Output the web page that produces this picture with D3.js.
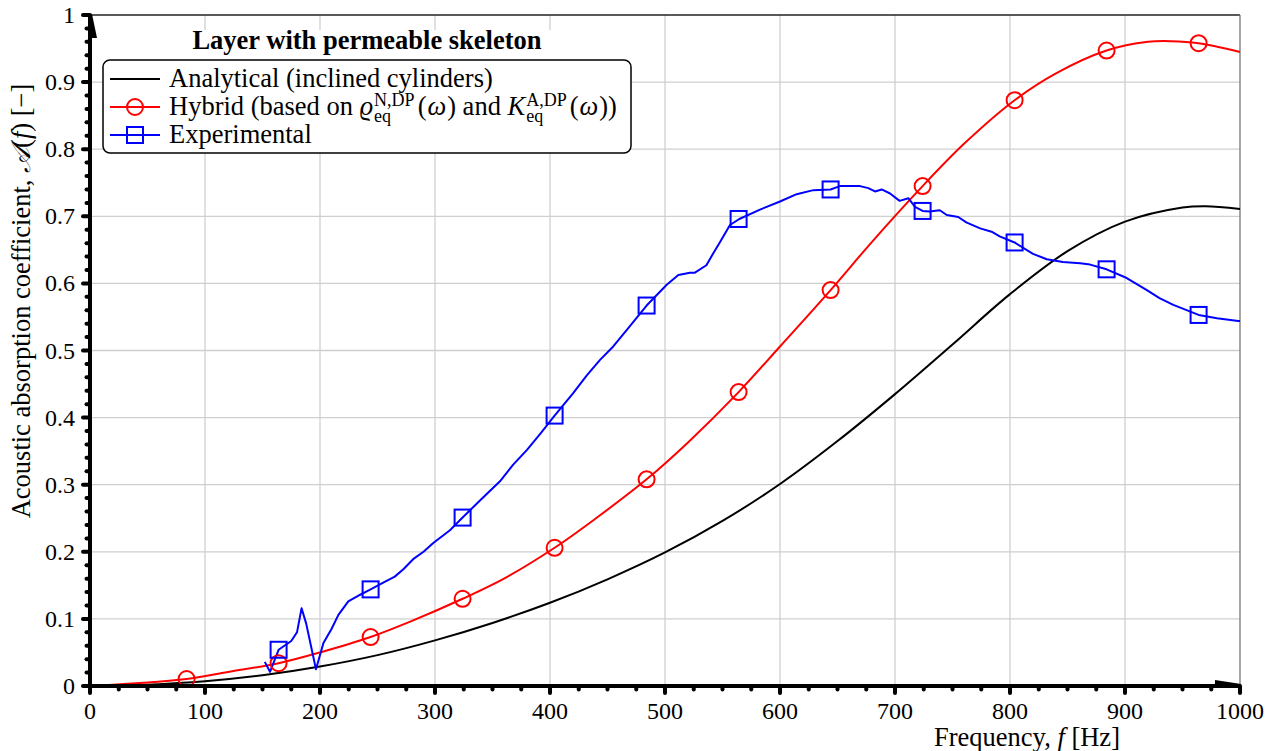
<!DOCTYPE html>
<html>
<head>
<meta charset="utf-8">
<script src="https://cdn.jsdelivr.net/npm/d3@7"></script>
<style>
body { margin: 0; background: #fff; }
svg { display: block; font-family: "Liberation Serif", "Times New Roman", serif; }
text { white-space: pre; }
</style>
</head>
<body>
<div id="chart"></div>
<script>
//---------------------------DATA--------------------------------//
const xTicks = [0, 100, 200, 300, 400, 500, 600, 700, 800, 900, 1000];
const yTicks = [0, 0.1, 0.2, 0.3, 0.4, 0.5, 0.6, 0.7, 0.8, 0.9, 1];
const yTickLabels = ["0", "0.1", "0.2", "0.3", "0.4", "0.5", "0.6", "0.7", "0.8", "0.9", "1"];
const xMinor = [25, 50, 75, 125, 150, 175, 225, 250, 275, 325, 350, 375, 425, 450, 475, 525, 550, 575,
                625, 650, 675, 725, 750, 775, 825, 850, 875, 925, 950, 975];
const yMinor = [0.02, 0.04, 0.06, 0.08, 0.12, 0.14, 0.16, 0.18, 0.22, 0.24, 0.26, 0.28, 0.32, 0.34, 0.36, 0.38,
                0.42, 0.44, 0.46, 0.48, 0.52, 0.54, 0.56, 0.58, 0.62, 0.64, 0.66, 0.68, 0.72, 0.74, 0.76, 0.78,
                0.82, 0.84, 0.86, 0.88, 0.92, 0.94, 0.96, 0.98];

// Analytical (inclined cylinders)
const analyticF = [0, 50, 100, 150, 200, 250, 300, 350, 400, 450, 500, 550, 600, 650, 700, 750, 800, 850, 900, 950, 970, 1000];
const analyticA = [0, 0.002, 0.007, 0.016, 0.029, 0.046, 0.068, 0.094, 0.124, 0.159, 0.199, 0.246, 0.301, 0.365,
                   0.435, 0.509, 0.584, 0.648, 0.692, 0.713, 0.715, 0.711];

// Hybrid curve + markers
const hybridF = [0, 40, 84, 120, 164, 200, 244, 280, 324, 360, 404, 440, 484, 520, 564, 600, 644, 680, 724, 760, 804,
                 840, 884, 920, 940, 964, 1000];
const hybridA = [0, 0.004, 0.0104, 0.021, 0.034, 0.05, 0.073, 0.097, 0.130, 0.160, 0.206, 0.250, 0.308, 0.363, 0.438,
                 0.506, 0.590, 0.662, 0.745, 0.808, 0.873, 0.913, 0.947, 0.960, 0.961, 0.958, 0.945];
const hybridMarkF = [84, 164, 244, 324, 404, 484, 564, 644, 724, 804, 884, 964];
const hybridMarkA = [0.0104, 0.034, 0.073, 0.130, 0.206, 0.308, 0.438, 0.590, 0.745, 0.873, 0.947, 0.958];

// Experimental
const expF = [152, 156.5, 164, 175, 180, 184, 188, 196.5, 203, 210, 216, 224.6, 235, 244, 255, 265, 272.5, 281, 290,
              298.5, 313, 324, 340, 356.5, 368, 380, 392, 404, 420, 432, 443.5, 455, 467, 484, 501.5, 511.6, 521.7,
              526, 536, 542, 548, 556.5, 564.6, 582.6, 600, 614.5, 629, 644, 652, 669.6, 676.8, 682.6, 688.4, 695.7,
              704, 711.6, 717.4, 724, 730, 739, 745, 755, 762, 774, 784, 791, 804, 820, 832, 846, 861, 869.6, 884,
              901.5, 919, 930, 942, 964, 980, 998.5, 1000];
const expA = [0.036, 0.021, 0.054, 0.067, 0.08, 0.116, 0.093, 0.025, 0.064, 0.085, 0.106, 0.126, 0.136, 0.144, 0.154,
              0.163, 0.174, 0.189, 0.200, 0.213, 0.232, 0.251, 0.278, 0.305, 0.330, 0.352, 0.377, 0.403, 0.436, 0.463,
              0.486, 0.506, 0.531, 0.567, 0.598, 0.6125, 0.616, 0.616, 0.627, 0.645, 0.662, 0.687, 0.696, 0.710, 0.722,
              0.733, 0.739, 0.740, 0.745, 0.745, 0.742, 0.737, 0.740, 0.734, 0.723, 0.727, 0.714, 0.708, 0.707, 0.709,
              0.702, 0.699, 0.691, 0.682, 0.677, 0.670, 0.661, 0.644, 0.636, 0.632, 0.630, 0.628, 0.621, 0.608, 0.590,
              0.578, 0.568, 0.553, 0.548, 0.544, 0.544];
const expMarkF = [164, 244, 324, 404, 484, 564, 644, 724, 804, 884, 964];
const expMarkA = [0.054, 0.144, 0.251, 0.403, 0.567, 0.696, 0.740, 0.708, 0.661, 0.621, 0.553];

//---------------------------SVG---------------------------------//
const width = 1274;
const height = 751;
const svg = d3.select("#chart").append("svg")
    .attr("width", width)
    .attr("height", height);

const x = d3.scaleLinear().domain([0, 1000]).range([90, 1240]);
const y = d3.scaleLinear().domain([0, 1]).range([686, 15]);
const x0 = x(0), x1 = x(1000), y0 = y(0), y1 = y(1);

const zip = (a, b) => a.map((d, i) => [d, b[i]]);

//---------------------------GRID--------------------------------//
svg.append("g").selectAll("line").data(xTicks.slice(1, -1)).join("line")
    .attr("x1", d => x(d)).attr("x2", d => x(d))
    .attr("y1", y0).attr("y2", y1)
    .attr("stroke", "#cfcfcf").attr("stroke-width", 1.3);
svg.append("g").selectAll("line").data(yTicks.slice(1, -1)).join("line")
    .attr("x1", x0).attr("x2", x1)
    .attr("y1", d => y(d)).attr("y2", d => y(d))
    .attr("stroke", "#cfcfcf").attr("stroke-width", 1.3);

// frame top / right
svg.append("line").attr("x1", x0).attr("x2", x1).attr("y1", y1).attr("y2", y1)
    .attr("stroke", "#222").attr("stroke-width", 1.3);
svg.append("line").attr("x1", x1).attr("x2", x1).attr("y1", y1).attr("y2", y0)
    .attr("stroke", "#777").attr("stroke-width", 1.3);

//---------------------------LINES-------------------------------//
const smooth = d3.line().x(d => x(d[0])).y(d => y(d[1])).curve(d3.curveCatmullRom);
const straight = d3.line().x(d => x(d[0])).y(d => y(d[1]));

svg.append("path")
    .attr("fill", "none").attr("stroke", "#000").attr("stroke-width", 2)
    .attr("d", smooth(zip(analyticF, analyticA)));

svg.append("path")
    .attr("fill", "none").attr("stroke", "#ff0000").attr("stroke-width", 2)
    .attr("d", smooth(zip(hybridF, hybridA)));

svg.append("path")
    .attr("fill", "none").attr("stroke", "#0000ff").attr("stroke-width", 2)
    .attr("stroke-linejoin", "round")
    .attr("d", straight(zip(expF, expA)));

//---------------------------MARKERS-----------------------------//
svg.append("g").selectAll("circle").data(zip(hybridMarkF, hybridMarkA)).join("circle")
    .attr("cx", d => x(d[0])).attr("cy", d => y(d[1])).attr("r", 8)
    .attr("fill", "none").attr("stroke", "#ff0000").attr("stroke-width", 2);

svg.append("g").selectAll("rect").data(zip(expMarkF, expMarkA)).join("rect")
    .attr("x", d => x(d[0]) - 8).attr("y", d => y(d[1]) - 8)
    .attr("width", 16).attr("height", 16)
    .attr("fill", "none").attr("stroke", "#0000ff").attr("stroke-width", 2);

//---------------------------AXES--------------------------------//
const axis = svg.append("g");
// minor ticks
axis.selectAll(".xm").data(xMinor).join("line")
    .attr("x1", d => x(d)).attr("x2", d => x(d)).attr("y1", y0).attr("y2", y0 + 3.5)
    .attr("stroke", "#000").attr("stroke-width", 4).attr("stroke-linecap", "round");
axis.selectAll(".ym").data(yMinor).join("line")
    .attr("y1", d => y(d)).attr("y2", d => y(d)).attr("x1", x0).attr("x2", x0 - 3.5)
    .attr("stroke", "#000").attr("stroke-width", 4).attr("stroke-linecap", "round");
// major ticks
axis.selectAll(".xM").data(xTicks).join("line")
    .attr("x1", d => x(d)).attr("x2", d => x(d)).attr("y1", y0).attr("y2", y0 + 7)
    .attr("stroke", "#000").attr("stroke-width", 4).attr("stroke-linecap", "round");
axis.selectAll(".yM").data(yTicks).join("line")
    .attr("y1", d => y(d)).attr("y2", d => y(d)).attr("x1", x0).attr("x2", x0 - 7)
    .attr("stroke", "#000").attr("stroke-width", 4).attr("stroke-linecap", "round");
// axis lines
axis.append("line").attr("x1", x0).attr("x2", x1).attr("y1", y0).attr("y2", y0)
    .attr("stroke", "#000").attr("stroke-width", 4);
axis.append("line").attr("x1", x0).attr("x2", x0).attr("y1", y0).attr("y2", y1)
    .attr("stroke", "#000").attr("stroke-width", 4);
// arrow heads
axis.append("polygon")
    .attr("points", [[x1 - 25, y0 - 6], [x1 + 1, y0 - 2], [x1 + 1, y0 + 2], [x1 - 25, y0 + 2]].join(" "))
    .attr("fill", "#000");
axis.append("polygon")
    .attr("points", [[x0 - 2, y1 - 1], [x0 + 2, y1 - 1], [x0 + 7, y1 + 23], [x0 - 2, y1 + 23]].join(" "))
    .attr("fill", "#000");

// tick labels
axis.selectAll(".xl").data(xTicks).join("text")
    .attr("x", d => x(d)).attr("y", y0 + 33)
    .attr("text-anchor", "middle").style("font-size", "24px")
    .text(d => d);
axis.selectAll(".yl").data(yTicks).join("text")
    .attr("x", x0 - 15).attr("y", d => y(d) + 8)
    .attr("text-anchor", "end").style("font-size", "24px")
    .text((d, i) => yTickLabels[i]);

//---------------------------LABELS------------------------------//
const xl = svg.append("text").attr("x", 1027).attr("y", 746)
    .attr("text-anchor", "middle").style("font-size", "26.5px");
xl.append("tspan").text("Frequency, ");
xl.append("tspan").style("font-style", "italic").text("f");
xl.append("tspan").text(" [Hz]");

const yl = svg.append("text")
    .attr("transform", "translate(30,301) rotate(-90)")
    .attr("text-anchor", "middle").style("font-size", "26.5px");
yl.append("tspan").text("Acoustic absorption coefficient, ");
yl.append("tspan").style("font-style", "italic").text("𝒜");
yl.append("tspan").text("(");
yl.append("tspan").style("font-style", "italic").text("f");
yl.append("tspan").text(") [\u2212]");

//---------------------------LEGEND------------------------------//
function richText(g, xs, yb, parts, size) {
    let cx = xs;
    parts.forEach(function(p) {
        if (p.stack) {
            const s = size * 0.68;
            const sup = g.append("text").attr("x", cx).attr("y", yb - size * 0.33)
                .style("font-size", s + "px").text(p.stack[0]);
            const sub = g.append("text").attr("x", cx).attr("y", yb + size * 0.25)
                .style("font-size", s + "px").text(p.stack[1]);
            cx += Math.max(sup.node().getComputedTextLength(), sub.node().getComputedTextLength()) + 3;
        } else {
            const t = g.append("text").attr("x", cx).attr("y", yb)
                .style("font-size", size + "px")
                .style("font-style", p.it ? "italic" : "normal")
                .text(p.t);
            cx += t.node().getComputedTextLength() + (p.gap || 0);
        }
    });
}

const lg = svg.append("g");
lg.append("rect").attr("x", 103).attr("y", 30).attr("width", 528).attr("height", 30).attr("fill", "#fff");
lg.append("rect").attr("x", 103).attr("y", 60).attr("width", 528).attr("height", 93)
    .attr("rx", 7).attr("fill", "#fff").attr("stroke", "#000").attr("stroke-width", 1.5);
lg.append("text").attr("x", 367).attr("y", 49).attr("text-anchor", "middle")
    .style("font-size", "26.5px").style("font-weight", "bold")
    .text("Layer with permeable skeleton");

const rows = [79, 107, 135];
lg.append("line").attr("x1", 110).attr("x2", 160).attr("y1", rows[0]).attr("y2", rows[0])
    .attr("stroke", "#000").attr("stroke-width", 2);
lg.append("line").attr("x1", 110).attr("x2", 160).attr("y1", rows[1]).attr("y2", rows[1])
    .attr("stroke", "#ff0000").attr("stroke-width", 2);
lg.append("circle").attr("cx", 135).attr("cy", rows[1]).attr("r", 8)
    .attr("fill", "none").attr("stroke", "#ff0000").attr("stroke-width", 2);
lg.append("line").attr("x1", 110).attr("x2", 160).attr("y1", rows[2]).attr("y2", rows[2])
    .attr("stroke", "#0000ff").attr("stroke-width", 2);
lg.append("rect").attr("x", 127).attr("y", rows[2] - 8).attr("width", 16).attr("height", 16)
    .attr("fill", "none").attr("stroke", "#0000ff").attr("stroke-width", 2);

richText(lg, 169, rows[0] + 8, [{t: "Analytical (inclined cylinders)"}], 26.5);
richText(lg, 169, rows[1] + 8, [
    {t: "Hybrid (based on "}, {t: "\u03F1", it: true, gap: 1}, {stack: ["N,DP", "eq"]},
    {t: "(", gap: 1}, {t: "\u03C9", it: true, gap: 1}, {t: ") and "}, {t: "K", it: true, gap: 1}, {stack: ["A,DP", "eq"]},
    {t: "(", gap: 1}, {t: "\u03C9", it: true, gap: 1}, {t: "))"}
], 26.5);
richText(lg, 169, rows[2] + 8, [{t: "Experimental"}], 26.5);
</script>
</body>
</html>
